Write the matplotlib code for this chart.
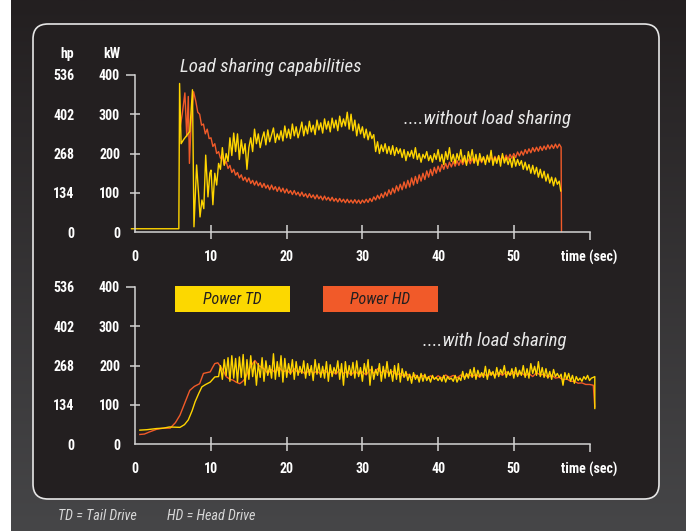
import numpy as np
import matplotlib
matplotlib.use('Agg')
from matplotlib import pyplot as plt
from matplotlib import transforms
from matplotlib.patches import FancyBboxPatch, Rectangle
from matplotlib.colors import LinearSegmentedColormap

# ---------------- data (kW vs time in seconds) ----------------
DT = 0.25

X_TICKS = [0, 10, 20, 30, 40, 50]
KW_TICKS = [0, 100, 200, 300, 400]
HP_LABELS = ['0', '134', '268', '402', '536']

# top panel, tail drive (yellow) - without load sharing
top_td_head_t = [-0.5, 5.75, 5.85, 6.05, 6.4, 6.8, 7.2, 7.55, 7.75, 8.1, 8.35, 8.55, 8.8, 9.05, 9.3, 9.6, 9.85, 10.0]
top_td_head_kw = [9, 9, 378, 225, 236, 246, 256, 362, 14, 171, 100, 39, 82, 60, 196, 90, 150, 158]
top_td_start = 10.25
top_td_kw = [
    70, 150, 120, 175,  160, 215, 170, 200,  180, 240, 195, 252,  205, 250, 185, 235,
    200, 225, 160, 215,  240, 205, 262, 225,  250, 215, 238, 255,  222, 260, 230, 248,
    265, 228, 250, 235,  258, 232, 270, 240,  262, 238, 275, 245,  268, 240, 258, 280,
    245, 270, 250, 282,  255, 272, 248, 285,  260, 278, 252, 288,  262, 282, 255, 290,
    265, 285, 258, 295,  268, 288, 270, 305,  262, 300, 258, 285,  245, 275, 250, 268,
    240, 262, 235, 255,  238, 248, 205, 230,  200, 222, 205, 225,  200, 218, 198, 220,
    195, 215, 200, 212,  190, 210, 182, 205,  192, 208, 188, 215,  185, 200, 178, 198,
    188, 205, 182, 195,  178, 200, 185, 210,  180, 198, 172, 205,  185, 215, 180, 198,
    175, 200, 183, 210,  178, 195, 170, 205,  182, 210, 176, 198,  170, 200, 180, 192,
    172, 196, 178, 208,  170, 190, 175, 195,  168, 200, 176, 190,  172, 188, 165, 192,
    168, 185, 170, 182,  160, 178, 158, 172,  150, 170, 148, 165,  140, 160, 138, 155,
    130, 148, 125, 140,  118, 138, 122, 130,
]
top_td_tail_t = [56.2]
top_td_tail_kw = [105]

# top panel, head drive (orange)
top_hd_head_t = [5.9, 6.2, 6.55, 6.8, 7.0, 7.15, 7.4, 7.7]
top_hd_head_kw = [265, 300, 354, 243, 345, 175, 290, 357]
top_hd_start = 8.0
top_hd_kw = [
    332, 305, 300, 272,  275, 250, 262, 238,  240, 218, 225, 200,  205, 188, 192, 172,
    180, 162, 170, 152,  160, 145, 152, 138,  146, 132, 140, 128,  138, 124, 132, 120,
    130, 118, 126, 114,  124, 112, 120, 108,  120, 108, 116, 104,  115, 103, 112, 100,
    110, 99, 106, 96,  106, 95, 102, 92,  102, 91, 98, 88,  98, 88, 95, 85,
    95, 85, 92, 82,  92, 82, 89, 80,  89, 79, 86, 77,  86, 77, 84, 75,
    84, 75, 82, 74,  83, 74, 82, 73,  82, 75, 84, 76,  86, 78, 90, 82,
    94, 85, 98, 88,  102, 92, 108, 96,  112, 100, 118, 105,  122, 108, 128, 112,
    132, 115, 138, 120,  142, 124, 146, 130,  150, 134, 156, 140,  160, 144, 165, 150,
    168, 154, 172, 160,  175, 162, 178, 166,  180, 168, 182, 170,  184, 172, 185, 174,
    186, 174, 188, 176,  188, 176, 189, 177,  190, 178, 191, 180,  192, 180, 193, 182,
    194, 182, 195, 184,  196, 185, 198, 188,  200, 190, 204, 194,  206, 196, 210, 200,
    212, 202, 215, 205,  216, 206, 218, 208,  219, 210, 222, 212,  222, 213, 224, 214,
    224, 216,
]
top_hd_tail_t = [56.3]
top_hd_tail_kw = [2]

# bottom panel, tail drive (yellow) - with load sharing
bot_td_head_t = [0.6, 1.5, 2.8, 3.7, 4.5, 5.9, 6.5, 7.0, 7.5, 7.9, 8.4, 8.8, 9.3, 9.9, 10.5]
bot_td_head_kw = [36, 37, 40, 41, 44, 43, 50, 62, 85, 108, 130, 146, 152, 158, 171]
bot_td_start = 11.0
bot_td_kw = [
    172, 200, 165, 215,  175, 220, 160, 225,  168, 218, 158, 222,  170, 228, 150, 215,
    165, 225, 172, 210,  150, 205, 170, 220,  160, 212, 175, 200,  168, 230, 165, 210,
    172, 225, 158, 218,  170, 205, 178, 215,  165, 210, 175, 198,  180, 212, 168, 205,
    175, 200, 162, 215,  178, 205, 170, 198,  168, 210, 160, 202,  172, 195, 180, 212,
    165, 205, 150, 210,  170, 200, 175, 208,  168, 212, 172, 195,  160, 205, 178, 215,
    150, 198, 165, 190,  175, 205, 160, 198,  168, 210, 172, 190,  160, 200, 165, 205,
    158, 192, 170, 185,  162, 178, 155, 182,  165, 175, 158, 180,  160, 178, 162, 172,
    158, 175, 165, 170,  162, 170, 160, 175,  158, 172, 165, 168,  160, 175, 158, 170,
    162, 185, 165, 180,  168, 190, 170, 195,  165, 188, 172, 182,  170, 198, 165, 190,
    175, 185, 168, 195,  172, 190, 178, 200,  170, 185, 175, 192,  168, 195, 172, 188,
    175, 200, 170, 192,  168, 205, 180, 198,  175, 210, 172, 195,  170, 192, 168, 185,
    165, 190, 172, 180,  170, 178, 150, 182,  165, 180, 160, 175,  155, 172, 162, 168,
    160, 172, 165, 175,  162, 168, 170,
]
bot_td_tail_t = [60.7, 60.7]
bot_td_tail_kw = [172, 91]

# bottom panel, head drive (orange)
bot_hd_head_t = [0.6, 1.2, 1.95, 2.8, 3.7, 4.6, 5.3, 5.9, 6.6, 7.2, 7.8, 8.5, 9.0, 9.9, 10.2,
                 10.5, 10.9, 11.3, 11.6, 12.0, 12.5, 12.9, 13.3, 13.8, 14.2, 14.5, 15.0, 15.5,
                 15.8, 16.3]
bot_hd_head_kw = [25, 26, 32, 38, 41, 41, 55, 74, 108, 137, 147, 154, 180, 184, 195,
                  205, 207, 196, 188, 172, 165, 163, 158, 154, 160, 167, 190, 205,
                  213, 200]
bot_hd_start = 17.0
bot_hd_step = 0.5
bot_hd_kw = [
    192, 180, 190, 182, 195, 184, 188, 180, 192, 182, 186, 178, 190, 180, 186, 178,
    188, 180, 185, 178, 190, 180, 185, 176, 186, 178, 184, 176, 190, 180, 192, 182,
    188, 180, 185, 176, 180, 172, 178, 170, 176, 168, 175, 168, 174, 166, 174, 168,
    176, 170, 175, 169, 176, 170, 178, 172, 178, 170, 180, 172, 182, 174, 182, 175,
    184, 176, 184, 176, 182, 174, 180, 172, 182, 176, 178, 170, 176, 168, 170, 164,
    166, 160, 160, 155, 156, 152, 152, 150,
]
bot_hd_tail_t = [60.7]
bot_hd_tail_kw = [95]


def series(head_t, head_kw, start, body_kw, tail_t, tail_kw, step=DT):
    body_t = start + step * np.arange(len(body_kw))
    t = np.concatenate([head_t, body_t, tail_t])
    kw = np.concatenate([head_kw, body_kw, tail_kw])
    return t, kw


YELLOW = '#ffd500'
ORANGE = '#f15a29'
PANEL = '#231f20'
AXIS_COLOR = '#d4d4d4'
NARROW = ['Roboto Condensed', 'DejaVu Sans']
LABEL_SIZE = 10

fig = plt.figure(figsize=(6.86, 5.31), dpi=100, facecolor='white')

# background in pixel units
bg = fig.add_axes([0, 0, 1, 1], zorder=0)
cmap = LinearSegmentedColormap.from_list('bg', ['#231f20', '#464648'])
bg.imshow(np.linspace(0, 1, 256).reshape(-1, 1), cmap=cmap, extent=[11, 686, 531, 0], aspect='auto')
bg.set_xlim(0, 686)
bg.set_ylim(531, 0)
bg.axis('off')
bg.add_patch(FancyBboxPatch((33, 24), 626, 475, boxstyle='round,pad=0,rounding_size=15',
                            fc=PANEL, ec='#e6e6e6', lw=1.2))


def make_axes(zero_px):
    ax = fig.add_axes([135.3 / 686, (531 - zero_px) / 531, 454.2 / 686, 157.5 / 531], zorder=1)
    ax.set_facecolor('none')
    ax.set_xlim(0, 60)
    ax.set_ylim(0, 400)
    for s in ['top', 'right']:
        ax.spines[s].set_visible(False)
    for s in ['left', 'bottom']:
        ax.spines[s].set_color(AXIS_COLOR)
        ax.spines[s].set_linewidth(1.1)
    ax.set_xticks(X_TICKS, labels=[str(v) for v in X_TICKS])
    ax.set_xticks([60], labels=['time (sec)'], minor=True)
    ax.set_yticks(KW_TICKS[:-1], labels=[str(v) for v in KW_TICKS[:-1]])
    ax.set_yticks(KW_TICKS[-1:], labels=[str(KW_TICKS[-1])], minor=True)
    common = dict(width=1.1, color=AXIS_COLOR, labelcolor='white', labelsize=LABEL_SIZE)
    ax.tick_params(axis='x', which='major', direction='inout', length=10, pad=7.5, **common)
    ax.tick_params(axis='x', which='minor', direction='out', length=5.8, pad=6.7, **common)
    ax.tick_params(axis='y', which='major', direction='inout', length=7.2, pad=7.4, **common)
    ax.tick_params(axis='y', which='minor', direction='out', length=6.3, pad=4.7, **common)
    ax.xaxis.get_major_ticks()[0].tick1line.set_visible(False)
    ax.yaxis.get_major_ticks()[0].tick1line.set_visible(False)
    for lab in ax.get_xticklabels(which='both') + ax.get_yticklabels(which='both'):
        lab.set_fontfamily(NARROW)
        lab.set_fontweight('bold')
    trans = transforms.blended_transform_factory(bg.transData, ax.transData)
    for kw, hp in zip(KW_TICKS, HP_LABELS):
        ax.text(74.5, kw, hp, transform=trans, ha='right', va='center_baseline', color='white',
                fontsize=LABEL_SIZE, fontweight='bold', family=NARROW)
    return ax


ax_top = make_axes(232.3)
t, kw = series(top_hd_head_t, top_hd_head_kw, top_hd_start, top_hd_kw, top_hd_tail_t, top_hd_tail_kw)
ax_top.plot(t, kw, color=ORANGE, lw=1.0, clip_on=False)
t, kw = series(top_td_head_t, top_td_head_kw, top_td_start, top_td_kw, top_td_tail_t, top_td_tail_kw)
ax_top.plot(t, kw, color=YELLOW, lw=1.0, clip_on=False)

ax_bot = make_axes(444.3)
t, kw = series(bot_hd_head_t, bot_hd_head_kw, bot_hd_start, bot_hd_kw, bot_hd_tail_t, bot_hd_tail_kw,
               step=bot_hd_step)
ax_bot.plot(t, kw, color=ORANGE, lw=1.0, clip_on=False)
t, kw = series(bot_td_head_t, bot_td_head_kw, bot_td_start, bot_td_kw, bot_td_tail_t, bot_td_tail_kw)
ax_bot.plot(t, kw, color=YELLOW, lw=1.0, clip_on=False)

# unit headers
head = dict(ha='right', va='center', color='white', fontsize=LABEL_SIZE, fontweight='bold', family=NARROW)
bg.text(74, 54, 'hp', **head)
bg.text(120, 54, 'kW', **head)

# annotations
note = dict(ha='left', va='center', style='italic', color='#e8e8e8', family=NARROW)
bg.text(180, 67, 'Load sharing capabilities', fontsize=13.6, **note)
bg.text(404, 119, '....without load sharing', fontsize=13.6, **note)
bg.text(423, 341, '....with load sharing', fontsize=13.6, **note)

# legend boxes
box_text = dict(ha='center', va='center', style='italic', color=PANEL, fontsize=11.4, family=NARROW)
bg.add_patch(Rectangle((175, 286), 115, 25.7, fc='#fcd800', ec='none'))
bg.text(232.5, 299, 'Power TD', **box_text)
bg.add_patch(Rectangle((323, 286), 114.7, 25.7, fc=ORANGE, ec='none'))
bg.text(380.3, 299, 'Power HD', **box_text)

# footer
foot = dict(ha='left', va='center', style='italic', color='#d8d8d8', fontsize=10.2, family=NARROW)
bg.text(57.7, 515.7, 'TD = Tail Drive', **foot)
bg.text(166.7, 515.7, 'HD = Head Drive', **foot)

fig.savefig('out.png', dpi=100, facecolor=fig.get_facecolor())
